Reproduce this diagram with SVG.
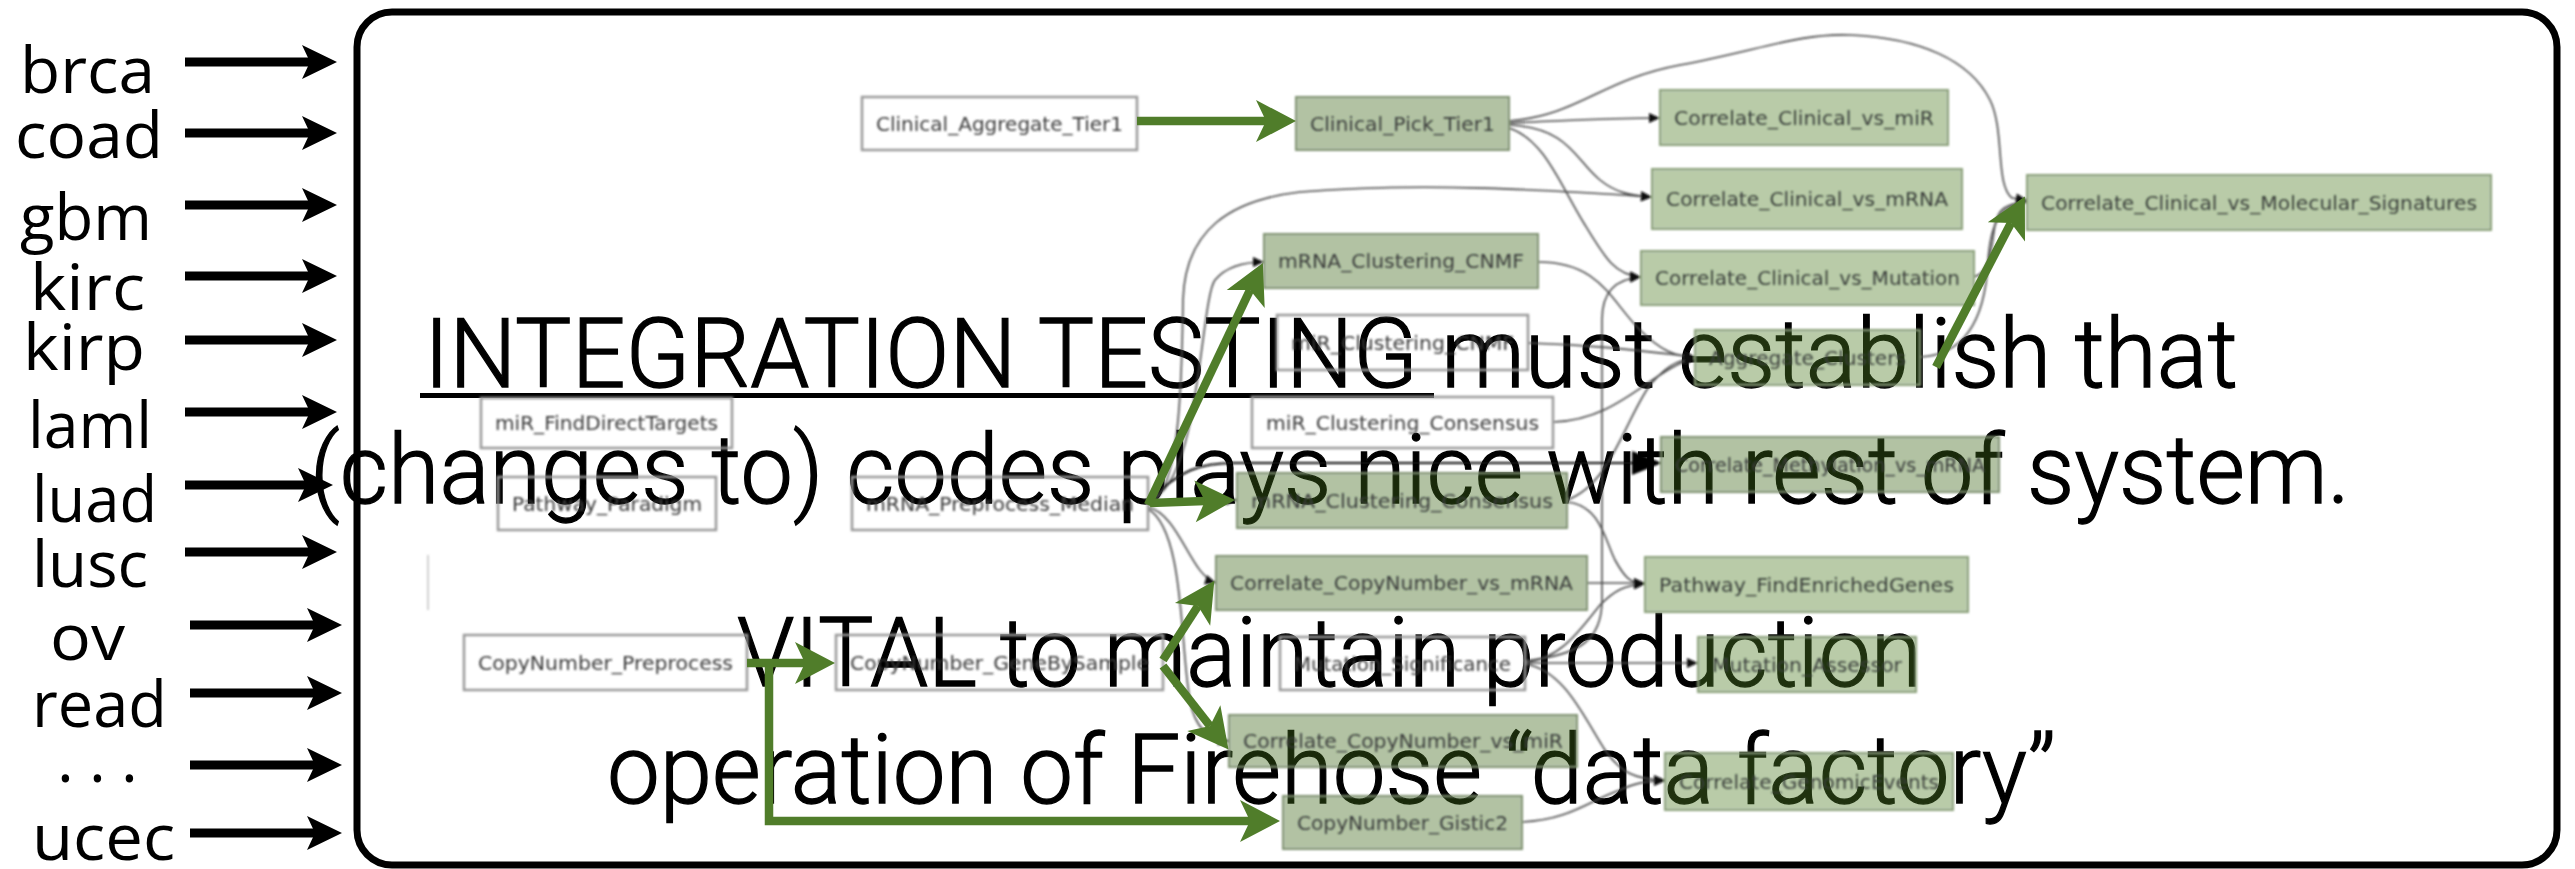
<svg xmlns="http://www.w3.org/2000/svg" width="2575" height="869" viewBox="0 0 2575 869">
<defs>
<style>
.lbl{font-family:"Open Sans","Noto Sans",sans-serif;font-size:64px;fill:#000}
.big{font-family:Roboto,"Liberation Sans",sans-serif;font-weight:300;font-size:97px;fill:#000;stroke:#000;stroke-width:1.3}
.nt{font-family:"DejaVu Sans",sans-serif;font-size:19px;fill:#3a3a3a;text-anchor:middle}
.white rect{fill:none;stroke:#9a9a9a;stroke-width:2.5}
.dark rect{fill:#3e6a12;fill-opacity:.4;stroke:#7f9270;stroke-width:2}
.light rect{fill:#4e7d26;fill-opacity:.4;stroke:#8ba079;stroke-width:2}
.in{stroke:#000;stroke-width:9;fill:none;marker-end:url(#inHead)}
.e{stroke:#4a4a4a;stroke-width:1.6;fill:none;marker-end:url(#eHead)}
.gr{stroke:#507d2a;stroke-width:8.5;fill:none;marker-end:url(#gHead)}
</style>
<marker id="inHead" markerUnits="userSpaceOnUse" markerWidth="60" markerHeight="60" refX="0" refY="0" orient="auto" overflow="visible">
<path d="M27,0 L-8,-17 L0,0 L-8,17 Z" fill="#000"/>
</marker>
<marker id="eHead" markerUnits="userSpaceOnUse" markerWidth="20" markerHeight="20" refX="11" refY="0" orient="auto" overflow="visible">
<path d="M0,-5 L11,0 L0,5 Z" fill="#111"/>
</marker>
<marker id="bigHead" markerUnits="userSpaceOnUse" markerWidth="40" markerHeight="40" refX="30" refY="0" orient="auto" overflow="visible">
<path d="M0,-12 L30,0 L0,12 Z" fill="#000"/>
</marker>
<marker id="gHead" markerUnits="userSpaceOnUse" markerWidth="80" markerHeight="80" refX="0" refY="0" orient="auto" overflow="visible">
<path d="M30,0 L-10,-21 L0,0 L-10,21 Z" fill="#507d2a"/>
</marker>
<filter id="soft" x="-2%" y="-2%" width="104%" height="104%">
<feGaussianBlur stdDeviation="0.9"/>
</filter>
</defs>

<rect width="2575" height="869" fill="#fff"/>

<!-- tumour-type inputs -->
<g id="inputs">
<text class="lbl" x="20" y="93" textLength="135" lengthAdjust="spacingAndGlyphs">brca</text>
<text class="lbl" x="15" y="158" textLength="148" lengthAdjust="spacingAndGlyphs">coad</text>
<text class="lbl" x="20" y="240" textLength="132" lengthAdjust="spacingAndGlyphs">gbm</text>
<text class="lbl" x="30" y="310" textLength="115" lengthAdjust="spacingAndGlyphs">kirc</text>
<text class="lbl" x="23" y="370" textLength="122" lengthAdjust="spacingAndGlyphs">kirp</text>
<text class="lbl" x="28" y="448" textLength="124" lengthAdjust="spacingAndGlyphs">laml</text>
<text class="lbl" x="32" y="522" textLength="125" lengthAdjust="spacingAndGlyphs">luad</text>
<text class="lbl" x="32" y="587" textLength="116" lengthAdjust="spacingAndGlyphs">lusc</text>
<text class="lbl" x="50" y="660" textLength="75" lengthAdjust="spacingAndGlyphs">ov</text>
<text class="lbl" x="32" y="727" textLength="135" lengthAdjust="spacingAndGlyphs">read</text>
<text class="lbl" x="57 89 121" y="782">...</text>
<text class="lbl" x="32" y="860" textLength="143" lengthAdjust="spacingAndGlyphs">ucec</text>
<line class="in" x1="185" y1="62" x2="310" y2="62"/>
<line class="in" x1="185" y1="133" x2="310" y2="133"/>
<line class="in" x1="185" y1="205" x2="310" y2="205"/>
<line class="in" x1="185" y1="276" x2="310" y2="276"/>
<line class="in" x1="185" y1="340" x2="310" y2="340"/>
<line class="in" x1="185" y1="412" x2="310" y2="412"/>
<line class="in" x1="185" y1="485" x2="306" y2="485"/>
<line class="in" x1="185" y1="552" x2="310" y2="552"/>
<line class="in" x1="190" y1="625" x2="315" y2="625"/>
<line class="in" x1="190" y1="693" x2="315" y2="693"/>
<line class="in" x1="190" y1="765" x2="315" y2="765"/>
<line class="in" x1="190" y1="833" x2="315" y2="833"/>
</g>

<!-- pipeline frame -->
<rect id="frame" x="357" y="12" width="2200" height="853" rx="35" fill="none" stroke="#000" stroke-width="7"/>

<!-- message text -->
<g id="message">
<text class="big" x="424" y="387" textLength="1814" lengthAdjust="spacingAndGlyphs">INTEGRATION TESTING must establish that</text>
<rect x="420" y="393" width="1014" height="5" fill="#000"/>
<text class="big" x="310" y="503" textLength="2040" lengthAdjust="spacingAndGlyphs">(changes to) codes plays nice with rest of system.</text>
<text class="big" x="737" y="686" textLength="1185" lengthAdjust="spacingAndGlyphs">VITAL to maintain production</text>
<text class="big" x="607" y="803" textLength="1449" lengthAdjust="spacingAndGlyphs">operation of Firehose “data factory”</text>
</g>

<!-- task graph -->
<g id="graph" filter="url(#soft)">
<g id="connectors">
<line x1="428" y1="555" x2="428" y2="610" stroke="#d0d0d0" stroke-width="2"/>
<path class="e" d="M1509,123 C1560,121 1610,118 1660,118"/>
<path class="e" d="M1509,125 C1570,128 1575,160 1600,180 C1615,192 1630,196 1652,197"/>
<path class="e" d="M1509,128 C1545,140 1560,185 1585,225 C1605,258 1615,275 1641,277"/>
<path class="e" d="M1509,121 C1580,115 1600,80 1680,65 C1760,50 1800,33 1850,35 C1920,38 1970,60 1990,100 C2005,130 1995,185 2012,198 L2027,200"/>
<path class="e" d="M1148,500 C1200,490 1200,300 1215,280 C1225,268 1240,262 1264,262"/>
<path class="e" d="M1148,505 C1180,495 1182,380 1183,300 C1185,230 1230,200 1300,192 C1420,182 1550,190 1652,197"/>
<path class="e" d="M1148,503 L1237,500"/>
<path class="e" d="M1148,507 C1180,515 1190,575 1216,583"/>
<path class="e" d="M1148,509 C1185,530 1180,650 1190,700 C1195,730 1210,740 1229,741"/>
<path class="e" d="M1538,262 C1600,262 1610,300 1640,330 C1660,350 1675,357 1695,357"/>
<path class="e" d="M1528,343 C1600,345 1650,352 1695,357"/>
<path class="e" d="M1553,422 C1620,420 1650,370 1695,358"/>
<path class="e" d="M1567,500 C1610,485 1625,420 1650,385 C1665,368 1675,360 1695,358"/>
<path class="e" d="M1567,502 C1600,505 1605,540 1615,560 C1625,578 1630,583 1645,584"/>
<path class="e" d="M1587,583 L1645,583"/>
<path class="e" d="M1525,663 L1698,663"/>
<path class="e" d="M1525,662 C1560,660 1580,630 1600,605 C1615,590 1625,585 1645,584"/>
<path class="e" d="M1525,664 C1565,670 1585,720 1605,750 C1620,772 1635,780 1665,780"/>
<path class="e" d="M1522,822 C1570,820 1590,800 1620,790 C1635,783 1645,781 1665,781"/>
<path class="e" d="M1525,661 C1580,655 1602,640 1602,600 L1602,320 C1602,292 1615,279 1641,277"/>
<path class="e" d="M1920,357 C1965,355 1985,320 1988,262 C1990,225 2000,204 2027,202"/>
<path class="e" d="M1974,277 C1992,272 1992,240 1995,225 C1998,210 2005,203 2027,202"/>
<path d="M1150,500 C1180,470 1200,463 1235,463 L1662,463" fill="none" stroke="#111" stroke-width="2" marker-end="url(#bigHead)"/>
</g>

<g id="n-clinical-aggregate" class="white"><rect x="862" y="97" width="275" height="53"/><text class="nt" x="999.5" y="130.5" textLength="247" lengthAdjust="spacingAndGlyphs">Clinical_Aggregate_Tier1</text></g>
<g id="n-clinical-pick" class="dark"><rect x="1296" y="97" width="213" height="53"/><text class="nt" x="1402.5" y="130.5" textLength="185" lengthAdjust="spacingAndGlyphs">Clinical_Pick_Tier1</text></g>
<g id="n-corr-clin-mir" class="light"><rect x="1660" y="90" width="288" height="55"/><text class="nt" x="1804" y="124.5" textLength="260" lengthAdjust="spacingAndGlyphs">Correlate_Clinical_vs_miR</text></g>
<g id="n-corr-clin-mrna" class="light"><rect x="1652" y="169" width="310" height="60"/><text class="nt" x="1807" y="206" textLength="282" lengthAdjust="spacingAndGlyphs">Correlate_Clinical_vs_mRNA</text></g>
<g id="n-corr-clin-mut" class="light"><rect x="1641" y="251" width="333" height="54"/><text class="nt" x="1807.5" y="285" textLength="305" lengthAdjust="spacingAndGlyphs">Correlate_Clinical_vs_Mutation</text></g>
<g id="n-corr-clin-molsig" class="light"><rect x="2027" y="175" width="464" height="55"/><text class="nt" x="2259" y="209.5" textLength="436" lengthAdjust="spacingAndGlyphs">Correlate_Clinical_vs_Molecular_Signatures</text></g>
<g id="n-mrna-cnmf" class="dark"><rect x="1264" y="234" width="274" height="54"/><text class="nt" x="1401" y="268" textLength="246" lengthAdjust="spacingAndGlyphs">mRNA_Clustering_CNMF</text></g>
<g id="n-mir-cnmf" class="white"><rect x="1277" y="315" width="251" height="55"/><text class="nt" x="1402.5" y="349.5" textLength="223" lengthAdjust="spacingAndGlyphs">miR_Clustering_CNMF</text></g>
<g id="n-mir-consensus" class="white"><rect x="1252" y="397" width="301" height="51"/><text class="nt" x="1402.5" y="429.5" textLength="273" lengthAdjust="spacingAndGlyphs">miR_Clustering_Consensus</text></g>
<g id="n-mir-targets" class="white"><rect x="481" y="398" width="251" height="50"/><text class="nt" x="606.5" y="430" textLength="223" lengthAdjust="spacingAndGlyphs">miR_FindDirectTargets</text></g>
<g id="n-aggregate-clusters" class="light"><rect x="1695" y="330" width="225" height="55"/><text class="nt" x="1807.5" y="364.5" textLength="197" lengthAdjust="spacingAndGlyphs">Aggregate_Clusters</text></g>
<g id="n-pathway-paradigm" class="white"><rect x="498" y="477" width="218" height="53"/><text class="nt" x="607" y="510.5" textLength="190" lengthAdjust="spacingAndGlyphs">Pathway_Paradigm</text></g>
<g id="n-mrna-preprocess" class="white"><rect x="852" y="477" width="296" height="53"/><text class="nt" x="1000" y="510.5" textLength="268" lengthAdjust="spacingAndGlyphs">mRNA_Preprocess_Median</text></g>
<g id="n-mrna-consensus" class="dark"><rect x="1237" y="473" width="330" height="55"/><text class="nt" x="1402" y="507.5" textLength="302" lengthAdjust="spacingAndGlyphs">mRNA_Clustering_Consensus</text></g>
<g id="n-corr-meth-mrna" class="dark"><rect x="1661" y="437" width="338" height="55"/><text class="nt" x="1830" y="471.5" textLength="310" lengthAdjust="spacingAndGlyphs">Correlate_Methylation_vs_mRNA</text></g>
<g id="n-corr-cn-mrna" class="dark"><rect x="1216" y="556" width="371" height="54"/><text class="nt" x="1401.5" y="590" textLength="343" lengthAdjust="spacingAndGlyphs">Correlate_CopyNumber_vs_mRNA</text></g>
<g id="n-pathway-enriched" class="light"><rect x="1645" y="557" width="323" height="55"/><text class="nt" x="1806.5" y="591.5" textLength="295" lengthAdjust="spacingAndGlyphs">Pathway_FindEnrichedGenes</text></g>
<g id="n-cn-preprocess" class="white"><rect x="464" y="635" width="283" height="55"/><text class="nt" x="605.5" y="669.5" textLength="255" lengthAdjust="spacingAndGlyphs">CopyNumber_Preprocess</text></g>
<g id="n-cn-genebysample" class="white"><rect x="836" y="635" width="327" height="55"/><text class="nt" x="999.5" y="669.5" textLength="299" lengthAdjust="spacingAndGlyphs">CopyNumber_GeneBySample</text></g>
<g id="n-mut-significance" class="white"><rect x="1280" y="637" width="245" height="53"/><text class="nt" x="1402.5" y="670.5" textLength="217" lengthAdjust="spacingAndGlyphs">Mutation_Significance</text></g>
<g id="n-mut-assessor" class="light"><rect x="1698" y="637" width="218" height="55"/><text class="nt" x="1807" y="671.5" textLength="190" lengthAdjust="spacingAndGlyphs">Mutation_Assessor</text></g>
<g id="n-corr-cn-mir" class="dark"><rect x="1229" y="715" width="348" height="52"/><text class="nt" x="1403" y="748" textLength="320" lengthAdjust="spacingAndGlyphs">Correlate_CopyNumber_vs_miR</text></g>
<g id="n-corr-genomic" class="light"><rect x="1665" y="753" width="288" height="57"/><text class="nt" x="1809" y="788.5" textLength="260" lengthAdjust="spacingAndGlyphs">Correlate_GenomicEvents</text></g>
<g id="n-cn-gistic2" class="dark"><rect x="1283" y="796" width="239" height="53"/><text class="nt" x="1402.5" y="829.5" textLength="211" lengthAdjust="spacingAndGlyphs">CopyNumber_Gistic2</text></g>
</g>

<!-- highlighted integration paths -->
<g id="highlight">
<path class="gr" d="M1137,121 L1266,121"/>
<path class="gr" d="M1148,505 L1250,290"/>
<path class="gr" d="M1150,503 L1205,501"/>
<path class="gr" d="M1936,367 L2011,223"/>
<path class="gr" d="M747,663 L805,663"/>
<path class="gr" d="M769,663 L769,821 L1250,821"/>
<path class="gr" d="M1163,660 L1198,606"/>
<path class="gr" d="M1163,666 L1210,726"/>
</g>
</svg>
